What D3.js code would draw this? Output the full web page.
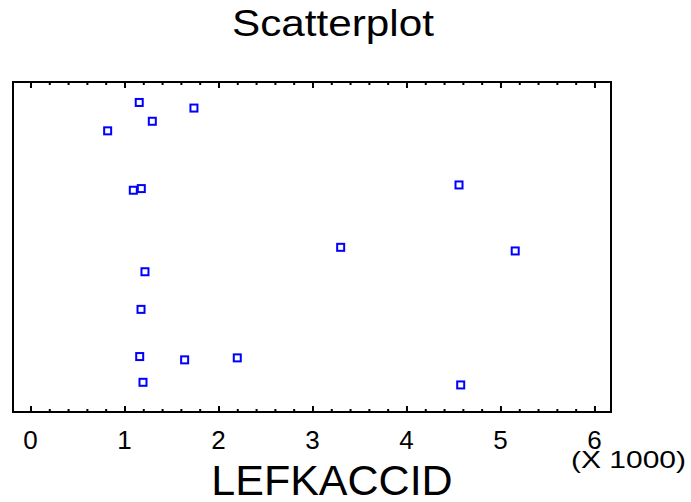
<!DOCTYPE html>
<html>
<head>
<meta charset="utf-8">
<script src="https://cdn.jsdelivr.net/npm/d3@7"></script>
<style>
  html, body { margin: 0; padding: 0; background: #fff; }
  svg { display: block; }
  text { font-family: "Liberation Sans", Arial, sans-serif; fill: #000; }
</style>
</head>
<body>
<script>
// LEFKACCID values (units of 1000) and their vertical positions (no y variable shown)
const lefkaccid = [1.157, 1.739, 1.296, 0.821, 1.094, 1.179, 4.559, 3.300, 5.157,
                   1.218, 1.176, 1.162, 1.640, 2.200, 1.197, 4.577];
const rowPos    = [93.8, 92.1, 88.1, 85.2, 67.2, 67.7, 68.8, 49.9, 48.8,
                   42.5, 31.1, 16.8, 15.8, 16.4, 9.0, 8.2];
const xTickValues = [0, 1, 2, 3, 4, 5, 6];
const xTickLabels = ["0", "1", "2", "3", "4", "5", "6"];
const titleText = "Scatterplot";
const xTitle = "LEFKACCID";
const xScaleNote = "(X 1000)";

const W = 691, H = 502;
const box = { left: 13, right: 611, top: 82, bottom: 412 };

const svg = d3.select("body").append("svg")
  .attr("width", W).attr("height", H);

const x = d3.scaleLinear()
  .domain([-0.186, 6.176])
  .range([box.left, box.right]);
const y = d3.scaleLinear()
  .domain([0, 100])
  .range([box.bottom, box.top]);

// Title
svg.append("text")
  .attr("x", 232).attr("y", 36)
  .attr("font-size", 36)
  .attr("textLength", 202)
  .attr("lengthAdjust", "spacingAndGlyphs")
  .text(titleText);

// Minor and major ticks on bottom (pointing up) and top (pointing down)
const minor = d3.range(0, 6.001, 0.2).filter(v => Math.abs(v - Math.round(v)) > 1e-6);

const bottomAxis = d3.axisBottom(x).tickValues(xTickValues).tickSize(-6).tickFormat("");
const bottomMinor = d3.axisBottom(x).tickValues(minor).tickSize(-3).tickFormat("");
const topAxis = d3.axisTop(x).tickValues(xTickValues).tickSize(-6).tickFormat("");
const topMinor = d3.axisTop(x).tickValues(minor).tickSize(-3).tickFormat("");

function styleAxis(g) {
  g.select(".domain").remove();
  g.selectAll(".tick line").attr("stroke", "#000").attr("stroke-width", 2);
}
svg.append("g").attr("transform", `translate(0,${box.bottom})`).call(bottomAxis).call(styleAxis);
svg.append("g").attr("transform", `translate(0,${box.bottom})`).call(bottomMinor).call(styleAxis);
svg.append("g").attr("transform", `translate(0,${box.top})`).call(topAxis).call(styleAxis);
svg.append("g").attr("transform", `translate(0,${box.top})`).call(topMinor).call(styleAxis);

// Frame
svg.append("rect")
  .attr("x", box.left).attr("y", box.top)
  .attr("width", box.right - box.left).attr("height", box.bottom - box.top)
  .attr("fill", "none").attr("stroke", "#000").attr("stroke-width", 2);

// Tick labels
svg.append("g").selectAll("text")
  .data(xTickValues)
  .join("text")
  .attr("x", d => x(d))
  .attr("y", 449)
  .attr("text-anchor", "middle")
  .attr("font-size", 26)
  .text((d, i) => xTickLabels[i]);

// Scale note
svg.append("text")
  .attr("x", 571).attr("y", 468)
  .attr("font-size", 24)
  .attr("textLength", 115)
  .attr("lengthAdjust", "spacingAndGlyphs")
  .text(xScaleNote);

// Axis title
svg.append("text")
  .attr("x", 332).attr("y", 495)
  .attr("text-anchor", "middle")
  .attr("font-size", 43)
  .text(xTitle);

// Points
svg.append("g").selectAll("rect")
  .data(lefkaccid.map((v, i) => ({ v, r: rowPos[i] })))
  .join("rect")
  .attr("x", d => x(d.v) - 3.5)
  .attr("y", d => y(d.r) - 3.5)
  .attr("width", 7).attr("height", 7)
  .attr("fill", "none")
  .attr("stroke", "#0000ff")
  .attr("stroke-width", 2);
</script>
</body>
</html>
